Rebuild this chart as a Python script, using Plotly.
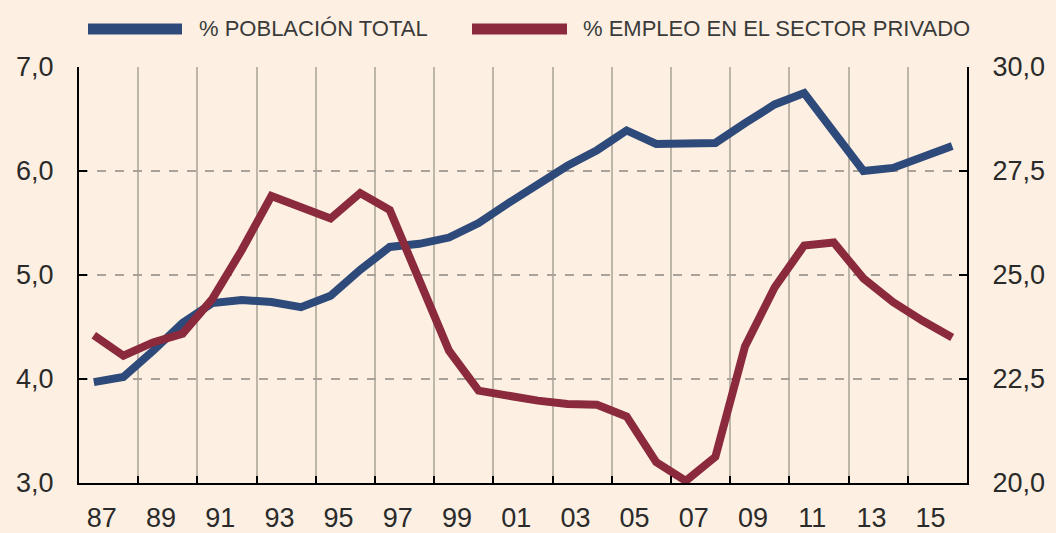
import plotly.graph_objects as go

years = list(range(1987, 2017))
poblacion_total = [3.97, 4.02, 4.27, 4.54, 4.73, 4.76, 4.74, 4.69, 4.80, 5.05,
                   5.27, 5.30, 5.36, 5.50, 5.69, 5.88, 6.05, 6.20, 6.39, 6.26,
                   6.26, 6.27, 6.46, 6.64, 6.75, 6.37, 6.00, 6.03, 6.14, 6.24]
empleo_privado = [23.55, 23.06, 23.38, 23.59, 24.42, 25.60, 26.90, 26.63, 26.36, 26.97,
                  26.56, 24.87, 23.18, 22.22, 22.08, 21.98, 21.90, 21.88, 21.60, 20.50,
                  20.05, 20.63, 23.28, 24.70, 25.71, 25.78, 24.92, 24.35, 23.90, 23.50]
x_tick_vals = list(range(1987, 2016, 2))
x_tick_text = [f"{y % 100:02d}" for y in x_tick_vals]
x_grid_vals = [y + 0.5 for y in range(1988, 2015, 2)]
left_ticks = [3.0, 4.0, 5.0, 6.0, 7.0]
right_ticks = [20.0, 22.5, 25.0, 27.5, 30.0]
legend_names = ["% POBLACIÓN TOTAL", "% EMPLEO EN EL SECTOR PRIVADO"]

BLUE = "#2E4A7A"
RED = "#8A2A3C"
BG = "#FDF0E2"
FONT = "Liberation Sans, Arial, sans-serif"

L, R, T, B = 79, 89, 67, 50
PW, PH = 1056 - L - R, 533 - T - B

fig = go.Figure()
fig.add_trace(go.Scatter(x=years, y=poblacion_total, mode="lines", name=legend_names[0],
                         line=dict(color=BLUE, width=8), yaxis="y"))
fig.add_trace(go.Scatter(x=years, y=empleo_privado, mode="lines", name=legend_names[1],
                         line=dict(color=RED, width=8), yaxis="y2"))

fig.update_layout(
    width=1056, height=533,
    margin=dict(l=L, r=R, t=T, b=B, autoexpand=False),
    paper_bgcolor=BG, plot_bgcolor=BG,
    separators=",.",
    showlegend=False,
    font=dict(family=FONT, size=27, color="#2a2a2a"),
    xaxis=dict(
        range=[1986.5, 2016.5], tickvals=x_tick_vals, ticktext=x_tick_text,
        showgrid=False, ticks="", showline=True, linecolor="black", linewidth=2,
        ticklabelshift=8, ticklabelstandoff=10, automargin=False,
        minor=dict(tickvals=x_grid_vals, showgrid=True, gridcolor="#BDB5A8",
                   gridwidth=1.5, ticks="inside", ticklen=7, tickcolor="black", tickwidth=2),
        zeroline=False,
    ),
    yaxis=dict(
        range=[3.0, 7.0], tickvals=left_ticks, tickformat=".1f",
        showgrid=True, gridcolor="#A9A29A", griddash="dash", gridwidth=1.5,
        ticks="inside", ticklen=8, tickcolor="black", tickwidth=2,
        showline=True, linecolor="black", linewidth=2, ticklabelstandoff=18,
        zeroline=False, automargin=False,
    ),
    yaxis2=dict(
        range=[20.0, 30.0], tickvals=right_ticks, tickformat=".1f",
        overlaying="y", side="right", showgrid=False,
        ticks="inside", ticklen=8, tickcolor="black", tickwidth=2,
        showline=True, linecolor="black", linewidth=2, ticklabelstandoff=18,
        zeroline=False, automargin=False,
    ),
)

# custom legend with long line samples (pixel positions converted to paper coords)
def px_x(p):
    return (p - L) / PW

def px_y(p):
    return 1 + (T - p) / PH

legend_items = [(88, 182, 199, BLUE, legend_names[0]),
                (472, 567, 583, RED, legend_names[1])]
for x0, x1, xt, col, name in legend_items:
    fig.add_shape(type="line", xref="paper", yref="paper", x0=px_x(x0), x1=px_x(x1),
                  y0=px_y(29), y1=px_y(29), line=dict(color=col, width=11))
    fig.add_annotation(xref="paper", yref="paper", x=px_x(xt), y=px_y(28),
                       xanchor="left", yanchor="middle", showarrow=False, text=name,
                       xshift=-2,
                       font=dict(family=FONT, size=22, color="#3a3a3a"))

fig.write_html(
    "out.html",
    config={"displayModeBar": False},
    post_script="document.body.style.margin='0';document.body.style.padding='0';"
                "document.body.style.background='" + BG + "';",
)
